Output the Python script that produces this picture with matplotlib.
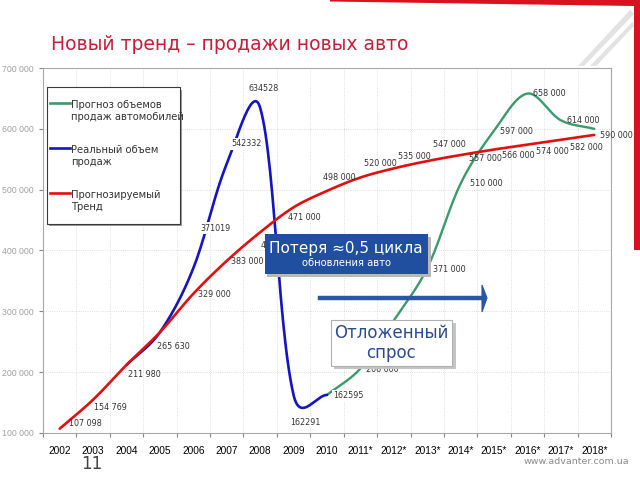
import numpy as np
import matplotlib
matplotlib.use("Agg")
import matplotlib.pyplot as plt
from matplotlib.patches import Rectangle, Polygon
from matplotlib.ticker import FuncFormatter

# data
years = ['2002', '2003', '2004', '2005', '2006', '2007', '2008', '2009', '2010',
         '2011*', '2012*', '2013*', '2014*', '2015*', '2016*', '2017*', '2018*']

trend_idx = list(range(17))
trend_vals = [107098, 154769, 211980, 265630, 329000, 383000, 430000, 471000, 498000,
              520000, 535000, 547000, 557000, 566000, 574000, 582000, 590000]

real_idx = [2, 3, 4, 5, 6, 7, 8]
real_vals = [211980, 265630, 371019, 542332, 634528, 162291, 162595]

fcst_idx = [8, 9, 10, 11, 12, 13, 14, 15, 16]
fcst_vals = [162595, 206000, 285000, 371000, 510000, 597000, 658000, 614000, 600000]

# which points carry a label, and the label offset (pixels right, pixels up)
trend_labels = {0: (26, 5), 1: (17, -8), 2: (18, -10), 3: (13, -14), 4: (21, -1),
                5: (20, -1), 6: (17, -13), 7: (11, -10), 8: (12, 13), 9: (20, 14),
                10: (21, 12), 11: (22, 17), 12: (25, -4), 13: (24, -6), 14: (25, -7),
                15: (25, -8), 16: (22, -1)}
real_labels = {4: (22, 40), 5: (20, 20), 6: (3, 19), 7: (12, -27), 8: (21, -1)}
fcst_labels = {9: (22, -1), 11: (22, -1), 12: (26, 0), 13: (22, -1), 14: (22, 0), 15: (22, 0)}

C_RED = '#E01010'
C_BLUE = '#1414C0'
C_GREEN = '#3A9A6C'
C_BOX = '#1F4F9E'

# pixel size of one category step and of 100 000 units, for the smoothing
SX, SY = 33.35, 60.8


def fmt(v):
    return f"{v:,}".replace(',', ' ')


def smooth(x, y, n=30):
    """Excel-like smoothed line: bezier segments, handles partly weighted by segment length."""
    p = np.column_stack([np.asarray(x, float) * SX, np.asarray(y, float) / 1e5 * SY])
    m = len(p)
    t = np.linspace(0, 1, n)[:, None]
    out = []
    for i in range(m - 1):
        p1, p2 = p[i], p[i + 1]
        d12 = np.hypot(*(p2 - p1))
        p0 = p[i - 1] if i > 0 else p1
        p3 = p[i + 2] if i + 2 < m else p2
        d01 = np.hypot(*(p1 - p0))
        d23 = np.hypot(*(p3 - p2))
        w1 = (0.5 + d12 / (d01 + d12)) / 2
        w2 = (0.5 + d12 / (d12 + d23)) / 2
        c1 = p1 + (p2 - p0) * w1 / 3 if i > 0 else p1 + (p2 - p1) / 3
        c2 = p2 - (p3 - p1) * w2 / 3 if i + 2 < m else p2 - (p2 - p1) / 3
        seg = ((1 - t) ** 3 * p1 + 3 * (1 - t) ** 2 * t * c1
               + 3 * (1 - t) * t ** 2 * c2 + t ** 3 * p2)
        out.append(seg if i == 0 else seg[1:])
    pts = np.vstack(out)
    return pts[:, 0] / SX, pts[:, 1] / SY * 1e5


def fx(x):
    return x / 640


def fy(y):
    return 1 - y / 480


fig = plt.figure(figsize=(6.4, 4.8), dpi=100)
ax = fig.add_axes([fx(43), fy(433), fx(611 - 43), (433 - 68) / 480])

ax.plot(*smooth(fcst_idx, fcst_vals), color=C_GREEN, lw=1.7, zorder=3, solid_capstyle='round')
ax.plot(*smooth(real_idx, real_vals), color=C_BLUE, lw=1.9, zorder=3, solid_capstyle='round')
ax.plot(*smooth(trend_idx, trend_vals), color=C_RED, lw=1.9, zorder=4, solid_capstyle='round')

lab_kw = dict(textcoords='offset points', ha='center', va='center', fontsize=5.8,
              color='#333333', annotation_clip=False, family='DejaVu Sans')
for i, (dx, dy) in trend_labels.items():
    ax.annotate(fmt(trend_vals[i]), (trend_idx[i], trend_vals[i]),
                xytext=(dx * 0.72, dy * 0.72), zorder=5, **lab_kw)
for i, (dx, dy) in real_labels.items():
    k = real_idx.index(i)
    ax.annotate(str(real_vals[k]), (real_idx[k], real_vals[k]),
                xytext=(dx * 0.72, dy * 0.72), zorder=5,
                bbox=dict(boxstyle='square,pad=0.15', fc='white', ec='none'), **lab_kw)
for i, (dx, dy) in fcst_labels.items():
    k = fcst_idx.index(i)
    ax.annotate(fmt(fcst_vals[k]), (fcst_idx[k], fcst_vals[k]),
                xytext=(dx * 0.72, dy * 0.72), zorder=5, **lab_kw)

ax.set_xlim(-0.5, 16.5)
ax.set_ylim(100000, 700000)
ax.set_yticks(range(100000, 700001, 100000))
ax.yaxis.set_major_formatter(FuncFormatter(lambda v, p: fmt(int(v))))
ax.set_xticks(np.arange(-0.5, 17, 1))
ax.set_xticklabels([])
ax.set_xticks(range(17), minor=True)
ax.set_xticklabels(years, minor=True)
ax.tick_params(axis='x', which='major', length=3, color='#888888', direction='out')
ax.tick_params(axis='x', which='minor', length=0, pad=9, labelsize=7.3, labelcolor='black')
ax.tick_params(axis='y', length=3, color='#888888', labelsize=6.3, labelcolor='#A0A0A0', pad=4)
for lab in ax.get_xticklabels(minor=True) + ax.get_yticklabels():
    lab.set_family('Liberation Sans')
ax.grid(True, which='major', color='#D4D4D4', lw=0.6, ls=':')
for s in ax.spines.values():
    s.set_color('#A8A8A8')
    s.set_linewidth(0.8)

# legend drawn as a panel
fig.patches.append(Rectangle((fx(49), fy(226)), fx(133), 136 / 480, transform=fig.transFigure,
                             fc='#9A9A9A', ec='none', zorder=6))
fig.patches.append(Rectangle((fx(47), fy(224)), fx(133), 137 / 480, transform=fig.transFigure,
                             fc='white', ec='#3A3A3A', lw=0.8, zorder=7))
legend_items = [(C_GREEN, 'Прогноз объемов\nпродаж автомобилей', 103, 111),
                (C_BLUE, 'Реальный объем\nпродаж', 148, 156),
                (C_RED, 'Прогнозируемый\nТренд', 193, 201)]
for col, txt, ly, ty in legend_items:
    fig.add_artist(plt.Line2D([fx(50), fx(70)], [fy(ly), fy(ly)], color=col, lw=1.9, zorder=8))
    fig.text(fx(71), fy(ty), txt, fontsize=7.2, color='#333333', va='center', ha='left',
             zorder=8, linespacing=1.2)

# title
fig.text(fx(230), fy(45), 'Новый тренд – продажи новых авто', ha='center', va='center',
         fontsize=13.5, color='#C41E3A')

# blue callout
fig.patches.append(Rectangle((fx(267), fy(277)), fx(164), 40 / 480, transform=fig.transFigure,
                             fc='#B8B8B8', ec='none', zorder=9))
fig.patches.append(Rectangle((fx(265), fy(274)), fx(163), 40 / 480, transform=fig.transFigure,
                             fc=C_BOX, ec='none', zorder=10))
fig.text(fx(346), fy(248), 'Потеря ≈0,5 цикла', ha='center', va='center', fontsize=11,
         color='white', zorder=11)
fig.text(fx(346), fy(263), 'обновления авто', ha='center', va='center', fontsize=7.2,
         color='white', zorder=11)

# arrow
fig.add_artist(plt.Line2D([fx(320), fx(483)], [fy(298), fy(298)], color='#2A56A2', lw=3.2,
                          zorder=9))
fig.patches.append(Polygon([(fx(482), fy(285)), (fx(487), fy(298)), (fx(482), fy(312))],
                           closed=True, transform=fig.transFigure, fc='#2A56A2', ec='#2A56A2',
                           lw=0.8, zorder=9))

# deferred demand box
fig.patches.append(Rectangle((fx(334), fy(369)), fx(122), 46 / 480, transform=fig.transFigure,
                             fc='#C4C4C4', ec='none', zorder=9))
fig.patches.append(Rectangle((fx(331), fy(366)), fx(121), 46 / 480, transform=fig.transFigure,
                             fc='white', ec='#B0B0B0', lw=0.8, zorder=10))
fig.text(fx(391), fy(343), 'Отложенный\nспрос', ha='center', va='center', fontsize=12,
         color='#2B4C8C', zorder=11, linespacing=1.1)

# page decorations
fig.patches.append(Polygon([(fx(330), fy(0)), (fx(640), fy(0)), (fx(640), fy(250)),
                            (fx(634), fy(250)), (fx(634), fy(6)), (fx(330), fy(1.5))],
                           closed=True, transform=fig.transFigure, fc='#D8121E', ec='none'))
for off in (0, 12):
    fig.patches.append(Polygon([(fx(578 + off), fy(66)), (fx(630 + off * 0.2), fy(10 + off)),
                                (fx(634), fy(14 + off)), (fx(584 + off), fy(66))],
                               closed=True, transform=fig.transFigure, fc='#E2E2E2', ec='none'))
fig.text(fx(92), fy(464), '11', ha='center', va='center', fontsize=12, color='#444444')
fig.text(fx(576), fy(461), 'www.advanter.com.ua', ha='center', va='center', fontsize=6.8,
         color='#8A8A8A')

fig.savefig('out.png', dpi=100)
